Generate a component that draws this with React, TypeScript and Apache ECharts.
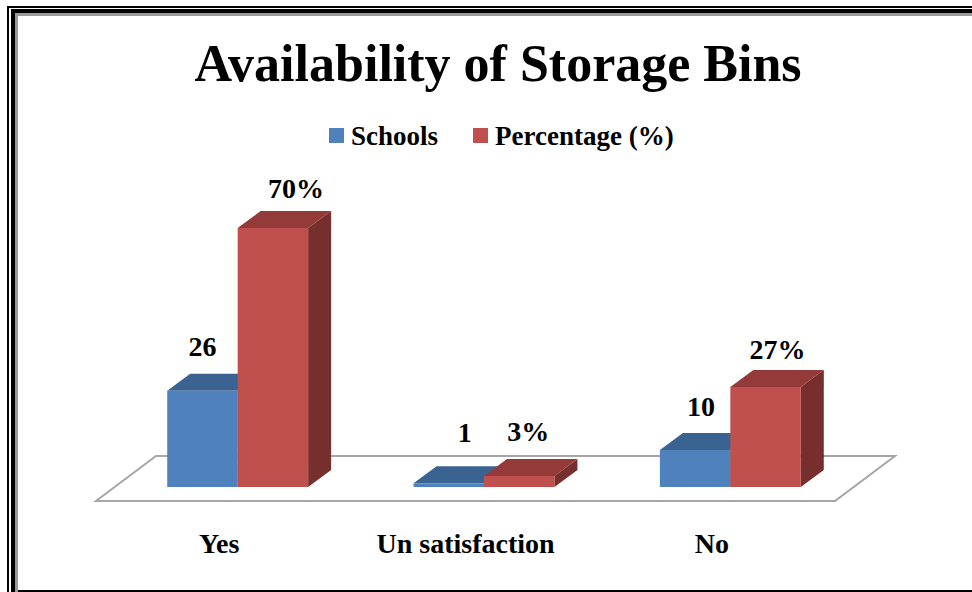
import React, { useEffect, useRef } from "react";
import * as echarts from "echarts";

const titleText = "Availability of Storage Bins";
const categories = ["Yes", "Un satisfaction", "No"];
const seriesNames = ["Schools", "Percentage (%)"];
const schools = [26, 1, 10];
const percentages = [70, 3, 27];

const FONT = '"Liberation Serif", serif';
const DEPTH_X = 23;
const DEPTH_Y = -17;
const SHIFT_X = 18.5;
const BAR_RATIO = 0.286;
const GRID = { left: 96, width: 739, top: 191, height: 296 };

// label offsets from the centre of the bar front's top edge
const schoolLabelOffsets = [[0, -44], [16, -51], [6, -44]];
const percentLabelOffsets = [[23, -40], [9, -44], [12, -38]];

const blueFaces = { front: "#4F81BD", top: "#3B6391", side: "#335A85" };
const redFaces = { front: "#C0504D", top: "#943A38", side: "#772F2D" };

function barSeries(name: string, values: number[], faces: any, side: number, suffix: string, offsets: number[][]) {
  return {
    type: "custom",
    name,
    coordinateSystem: "cartesian2d",
    itemStyle: { color: faces.front },
    encode: { x: 0, y: 1 },
    z: 3 + side,
    clip: false,
    data: values.map((v, i) => [categories[i], v]),
    renderItem: (_params: any, api: any) => {
      const idx = api.value(0);
      const val = api.value(1);
      const top = api.coord([idx, val]);
      const base = api.coord([idx, 0]);
      const w = api.size([1, 0])[0] * BAR_RATIO;
      const x0 = top[0] + SHIFT_X + (side === 0 ? -w : 0);
      const x1 = x0 + w;
      const yT = top[1];
      const yB = base[1];
      const off = offsets[_params.dataIndex];
      return {
        type: "group",
        children: [
          {
            type: "polygon",
            shape: { points: [[x1, yT], [x1 + DEPTH_X, yT + DEPTH_Y], [x1 + DEPTH_X, yB + DEPTH_Y], [x1, yB]] },
            style: { fill: faces.side },
          },
          {
            type: "polygon",
            shape: { points: [[x0, yT], [x0 + DEPTH_X, yT + DEPTH_Y], [x1 + DEPTH_X, yT + DEPTH_Y], [x1, yT]] },
            style: { fill: faces.top },
          },
          {
            type: "rect",
            shape: { x: x0, y: yT, width: w, height: yB - yT },
            style: { fill: faces.front },
          },
          {
            type: "text",
            x: (x0 + x1) / 2 + off[0],
            y: yT + off[1],
            style: {
              text: `${val}${suffix}`,
              fill: "#000",
              font: `bold 28px ${FONT}`,
              align: "center",
              verticalAlign: "middle",
            },
          },
        ],
      };
    },
  };
}

const frameRect = (x: number, y: number, width: number, height: number, fill: string) => ({
  type: "rect",
  shape: { x, y, width, height },
  style: { fill },
  z: 10,
});

export default function App() {
  const ref = useRef<HTMLDivElement>(null);
  useEffect(() => {
    document.body.style.margin = "0";
    const chart = echarts.init(ref.current!, undefined, { renderer: "svg" });
    const floorLeft = GRID.left;
    const floorRight = GRID.left + GRID.width;
    const floorY = 501;
    chart.setOption({
      animation: false,
      backgroundColor: "#ffffff",
      title: {
        text: titleText,
        left: 493,
        top: 32,
        textAlign: "center",
        textStyle: { fontFamily: FONT, fontWeight: "bold", fontSize: 52, color: "#000" },
      },
      legend: {
        left: 324,
        top: 117,
        icon: "rect",
        itemWidth: 15,
        itemHeight: 15,
        itemGap: 35,
        data: seriesNames,
        textStyle: { fontFamily: FONT, fontWeight: "bold", fontSize: 27, color: "#000", padding: [0, 0, 0, 2] },
      },
      grid: GRID,
      xAxis: {
        type: "category",
        data: categories,
        axisLine: { show: false },
        axisTick: { show: false },
        axisLabel: {
          margin: 42,
          fontFamily: FONT,
          fontWeight: "bold",
          fontSize: 28,
          color: "#000",
          interval: 0,
        },
      },
      yAxis: { type: "value", min: 0, max: 80, interval: 20, show: false },
      graphic: [
        {
          type: "polygon",
          z: 0,
          shape: {
            points: [
              [floorLeft, floorY],
              [floorRight, floorY],
              [floorRight + 60, floorY - 45],
              [floorLeft + 60, floorY - 45],
            ],
          },
          style: { fill: "#fff", stroke: "#A6A6A6", lineWidth: 2 },
        },
        frameRect(7, 6, 965, 2, "#000"),
        frameRect(11, 9, 961, 4, "#000"),
        frameRect(15, 13, 957, 3, "#9a9a9a"),
        frameRect(7, 6, 2, 586, "#000"),
        frameRect(11, 9, 4, 583, "#000"),
        frameRect(15, 13, 3, 579, "#9a9a9a"),
        frameRect(18, 590, 954, 2, "#000"),
      ],
      series: [
        barSeries(seriesNames[0], schools, blueFaces, 0, "", schoolLabelOffsets),
        barSeries(seriesNames[1], percentages, redFaces, 1, "%", percentLabelOffsets),
      ],
    });
    return () => chart.dispose();
  }, []);
  return <div ref={ref} style={{ position: "fixed", left: 0, top: 0, width: 972, height: 592 }} />;
}
